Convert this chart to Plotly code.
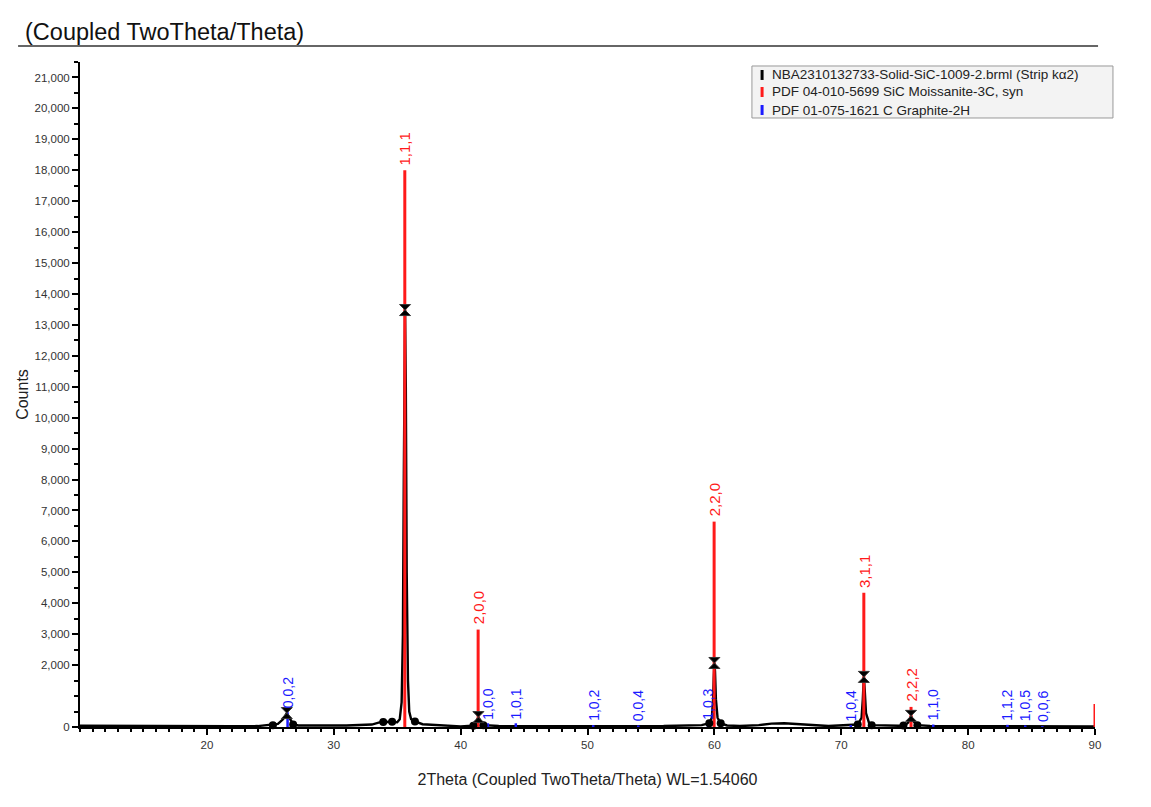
import plotly.graph_objects as go

scan_2theta = [10, 12, 14, 16, 18, 20, 22, 24, 25.0, 25.6, 26.0, 26.3, 26.5, 26.8, 27.2, 29, 31, 33.0,
               33.6, 34.0, 34.5, 35.0, 35.2, 35.35, 35.45, 35.52, 35.58, 35.62, 35.68, 35.75, 35.85,
               35.95, 36.1, 36.4, 37, 38, 39, 40, 40.9, 41.2, 41.4, 41.55, 41.9, 43, 45, 48, 52, 56,
               59.0, 59.6, 59.8, 59.9, 59.95, 60.0, 60.05, 60.12, 60.25, 60.5, 61, 62, 63.5, 64.5,
               65.5, 66.5, 67.5, 69, 71.3, 71.6, 71.7, 71.78, 71.85, 71.95, 72.2, 72.5, 74.5, 75.0,
               75.3, 75.5, 75.65, 76.0, 77, 80, 84, 88, 90]
scan_counts = [40, 35, 45, 40, 30, 30, 25, 30, 60, 100, 250, 450, 300, 90, 50, 45, 50, 80,
               150, 160, 170, 150, 250, 800, 3000, 8000, 13000, 13480, 11000, 5000, 1500,
               500, 250, 180, 90, 70, 30, 20, 40, 120, 320, 200, 60, 30, 25, 20, 25, 30,
               60, 120, 300, 900, 1600, 2070, 1800, 900, 300, 120, 50, 30, 60, 110,
               120, 100, 60, 30, 80, 300, 900, 1620, 1200, 450, 120, 60, 40, 50,
               150, 360, 200, 60, 35, 30, 25, 20, 20]

# peak search markers
peak_2theta = [26.3, 35.62, 41.4, 60.0, 71.78, 75.5]
peak_counts = [450, 13480, 320, 2070, 1620, 360]
edge_2theta = [25.2, 26.8, 33.9, 34.6, 36.4, 41.0, 41.8, 59.6, 60.5, 71.3, 72.4, 74.9, 76.0]
edge_counts = [60, 80, 160, 170, 180, 40, 60, 120, 120, 80, 60, 50, 60]

# PDF 04-010-5699 SiC Moissanite-3C
sic_2theta = [35.6, 41.38, 59.98, 71.78, 75.5, 90.0]
sic_counts = [18000, 3150, 6640, 4340, 650, 745]
sic_hkl = ["1,1,1", "2,0,0", "2,2,0", "3,1,1", "2,2,2", ""]

# PDF 01-075-1621 C Graphite-2H
gr_2theta = [26.36, 42.15, 44.35, 50.45, 54.0, 59.5, 70.75, 77.25, 83.1, 84.5, 85.85]
gr_counts = [480, 120, 120, 60, 50, 90, 60, 80, 70, 50, 30]
gr_hkl = ["0,0,2", "1,0,0", "1,0,1", "1,0,2", "0,0,4", "1,0,3", "1,0,4", "1,1,0", "1,1,2", "1,0,5", "0,0,6"]

legend_names = ["NBA2310132733-Solid-SiC-1009-2.brml (Strip k\u03b12)",
                "PDF 04-010-5699 SiC Moissanite-3C, syn",
                "PDF 01-075-1621 C Graphite-2H"]
RED = "#ff1a1a"
BLUE = "#1a1aff"
legend_colors = ["black", RED, BLUE]


def sticks(xs, ys):
    sx, sy = [], []
    for x, y in zip(xs, ys):
        sx += [x, x, None]
        sy += [0, y, None]
    return sx, sy


fig = go.Figure()

fig.add_trace(go.Scatter(x=scan_2theta, y=scan_counts, mode="lines",
                         line=dict(color="black", width=2.4), showlegend=False))

sx, sy = sticks(gr_2theta, gr_counts)
fig.add_trace(go.Scatter(x=sx, y=sy, mode="lines", line=dict(color=BLUE, width=2.5),
                         showlegend=False, cliponaxis=False))
sx, sy = sticks(sic_2theta, sic_counts)
fig.add_trace(go.Scatter(x=sx, y=sy, mode="lines", line=dict(color=RED, width=3),
                         showlegend=False, cliponaxis=False))

fig.add_trace(go.Scatter(x=edge_2theta, y=edge_counts, mode="markers",
                         marker=dict(color="black", size=8), showlegend=False, cliponaxis=False))
fig.add_trace(go.Scatter(x=peak_2theta, y=peak_counts, mode="markers",
                         marker=dict(color="black", size=11, symbol="hourglass",
                                     line=dict(color="#333", width=1)),
                         showlegend=False, cliponaxis=False))

# hkl labels
for x, y, t in zip(sic_2theta, sic_counts, sic_hkl):
    if t:
        fig.add_annotation(x=x, y=y, text=t, textangle=-90, showarrow=False,
                           xanchor="center", yanchor="bottom", yshift=3,
                           font=dict(color=RED, size=15, family="Liberation Sans"))
for x, y, t in zip(gr_2theta, gr_counts, gr_hkl):
    fig.add_annotation(x=x, y=y, text=t, textangle=-90, showarrow=False,
                       xanchor="center", yanchor="bottom", yshift=2,
                       font=dict(color=BLUE, size=14, family="Liberation Sans"))

# hand-drawn legend box in the top right corner
fig.add_shape(type="rect", xref="paper", yref="paper", x0=0.662, x1=1.0177, y0=0.9158, y1=0.994,
              line=dict(color="#999", width=1), fillcolor="#f3f3f3", layer="above")
row_y = [0.9805, 0.9549, 0.9278]
for name, col, yy in zip(legend_names, legend_colors, row_y):
    fig.add_shape(type="line", xref="paper", yref="paper", x0=0.672, x1=0.672,
                  y0=yy - 0.0075, y1=yy + 0.0075, line=dict(color=col, width=3), layer="above")
    fig.add_annotation(xref="paper", yref="paper", x=0.6795, y=yy, text=name, showarrow=False,
                       xanchor="left", yanchor="middle", font=dict(size=13.5, color="#222"))

# rule under the title
fig.add_shape(type="line", xref="paper", yref="paper", x0=-0.061, x1=1.003, y0=1.024, y1=1.024,
              line=dict(color="#333", width=1.5))

ytick_vals = [0] + list(range(2000, 22000, 1000))
fig.update_layout(
    width=1151, height=807,
    margin=dict(l=72, r=64, t=54, b=88),
    paper_bgcolor="white", plot_bgcolor="white",
    showlegend=False,
    font=dict(family="Liberation Sans", color="#222"),
    title=dict(text="(Coupled TwoTheta/Theta)", x=0.0148, xanchor="left", y=0.970, yanchor="middle",
               font=dict(size=23.5, color="#111")),
    xaxis=dict(range=[10, 90], tickmode="array", tickvals=list(range(20, 100, 10)),
               ticks="outside", ticklen=6, tickwidth=1.5, tickcolor="black",
               minor=dict(tickmode="linear", tick0=0, dtick=1, ticks="outside", ticklen=3, tickcolor="black"),
               showline=True, linecolor="black", linewidth=2, showgrid=False, zeroline=False,
               tickfont=dict(size=11.5, color="#333"),
               title=dict(text="2Theta (Coupled TwoTheta/Theta) WL=1.54060", standoff=24,
                          font=dict(size=16, color="#222"))),
    yaxis=dict(range=[0, 21500], tickmode="array", tickvals=ytick_vals,
               ticktext=[f"{v:,}" for v in ytick_vals],
               ticks="outside", ticklen=6, tickwidth=1.5, tickcolor="black",
               minor=dict(tickmode="linear", tick0=0, dtick=500, ticks="outside", ticklen=4, tickcolor="black"),
               showline=True, linecolor="black", linewidth=2, showgrid=False, zeroline=False,
               tickfont=dict(size=11.5, color="#333"),
               title=dict(text="Counts", standoff=2, font=dict(size=16, color="#222"))),
)

fig.write_html("out.html")
